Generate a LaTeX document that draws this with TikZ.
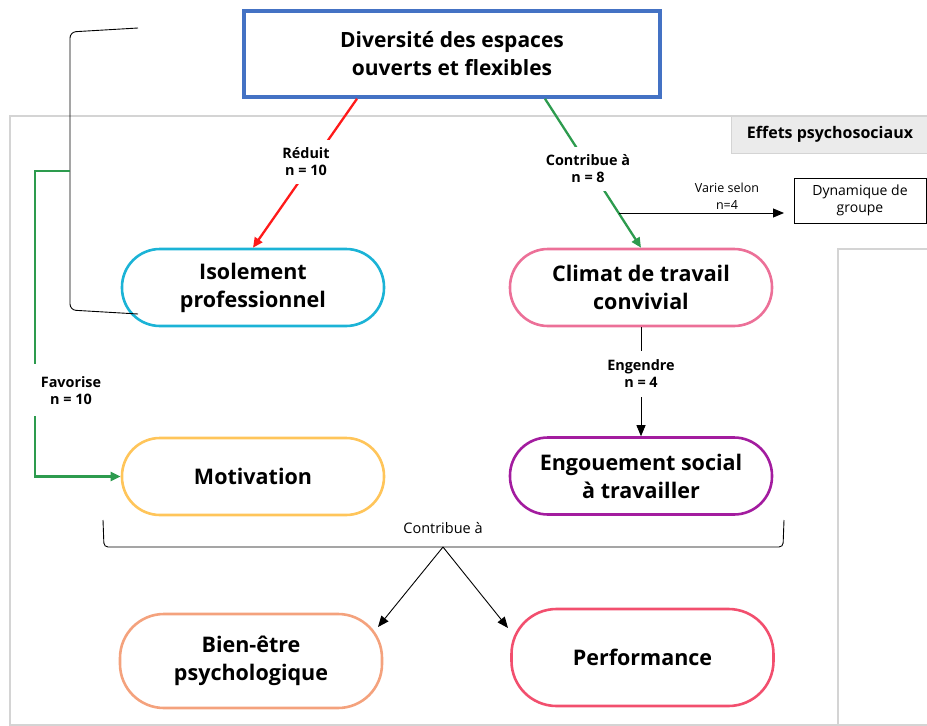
\documentclass[tikz,border=0pt]{standalone}
\usepackage{fontspec}
\setmainfont{Open Sans}
\usetikzlibrary{arrows.meta,calc}
\definecolor{topblue}{HTML}{4472C4}
\definecolor{isoc}{HTML}{1BB3D6}
\definecolor{climc}{HTML}{EC7098}
\definecolor{motc}{HTML}{FFC55A}
\definecolor{engc}{HTML}{A31C9F}
\definecolor{bienc}{HTML}{F4A27D}
\definecolor{perfc}{HTML}{F24F6E}
\definecolor{greenc}{HTML}{2D9B4E}
\definecolor{redc}{HTML}{FF1A1A}
\definecolor{framec}{HTML}{D4D4D4}
\definecolor{effc}{HTML}{EBEBEB}
\begin{document}
\begin{tikzpicture}[x=1pt,y=-1pt,
  pill/.style={draw=#1, line width=2.6pt, rounded corners=38pt, minimum width=262pt, minimum height=77pt, align=center, inner sep=0pt, font=\fontsize{21.5}{28}\selectfont\bfseries},
  lbl/.style={fill=white, align=center, inner xsep=4pt, inner ysep=8pt, font=\fontsize{14.4}{17}\selectfont\bfseries},
  small/.style={align=center, inner sep=0pt, font=\fontsize{14}{17}\selectfont},
  tipA/.style={-{Triangle[length=10pt,width=9pt]}},
  tipB/.style={-{Triangle[length=11pt,width=9pt]}},
  thinl/.style={line width=0.9pt, black}]
\useasboundingbox (0,0) rectangle (927,726);
% frame
\draw[framec, line width=1.5pt] (10,726) -- (10,116) -- (927,116);
\draw[framec, line width=1.5pt] (10,725) -- (927,725);
\draw[framec, line width=1.5pt] (838,726) -- (838,249) -- (927,249);
\node[fill=effc, draw=framec, line width=0.6pt, minimum width=198pt, minimum height=37pt, inner sep=0pt, font=\fontsize{16}{20}\selectfont\bfseries] (eff) at (830,134.5) {Effets psychosociaux};
% top box
\node[draw=topblue, line width=3.5pt, fill=white, minimum width=416pt, minimum height=86pt, align=center, inner sep=0pt, font=\fontsize{21}{28}\selectfont\bfseries] (top) at (452,54) {Diversité des espaces\\ouverts et flexibles};
% pills
\node[pill=isoc] (iso) at (253,287.5) {Isolement\\professionnel};
\node[pill=climc] (clim) at (641,287.5) {Climat de travail\\convivial};
\node[pill=motc] (mot) at (253,476.5) {Motivation};
\node[pill=engc] (eng) at (641,476) {Engouement social\\à travailler};
\node[pill=bienc, minimum height=94pt, rounded corners=44pt] (bien) at (251,661) {Bien-être\\psychologique};
\node[pill=perfc, minimum height=97pt, rounded corners=45pt] (perf) at (642.5,657.5) {Performance};
% dynamique box
\node[draw, line width=0.9pt, minimum width=132pt, minimum height=45pt, small] (dyn) at (860,200.5) {Dynamique de\\groupe};
% left bracket
\draw[thinl, rounded corners=6pt] (138,28) -- (70,32) -- (70,310) -- (138,314);
\coordinate (brk) at (70,171);
% red arrow
\draw[redc, line width=2.3pt, tipA] ($(top.south)+(-95,0)$) -- (iso.north);
\node[lbl] (red) at (306,162) {Réduit\\n = 10};
% green arrow
\draw[greenc, line width=2.3pt, tipA] ($(top.south)+(93,0)$) -- (clim.north);
\node[lbl] (grn) at (588,169) {Contribue à\\n = 8};
% varie selon
\coordinate (vs) at (619,213);
\coordinate (ve) at (784,213);
\draw[thinl, tipB] (vs) -- (ve);
\node[small, font=\fontsize{12.5}{17}\selectfont] (var) at (727,196) {Varie selon\\n=4};
% engendre
\draw[thinl, tipB] (clim.south) -- (eng.north);
\node[lbl, inner ysep=9pt] (engl) at (641,374) {Engendre\\n = 4};
% favorise
\coordinate (fa) at (35,364);
\coordinate (fb) at (35,416);
\draw[greenc, line width=2.3pt] (brk) -- (35,171) -- (fa);
\draw[greenc, line width=2.3pt, tipA] (fb) |- (mot.west);
\node[align=center, inner sep=0pt, font=\fontsize{14.4}{17}\selectfont\bfseries] (fav) at (71,391) {Favorise\\n = 10};
% bottom brace
\draw[thinl, rounded corners=4pt] (103,520) -- (104,547) -- (783,547) -- (784,520);
\coordinate (apex) at (443,547);
\node[small, font=\fontsize{14.5}{17}\selectfont] (contr) at (443,528) {Contribue à};
\coordinate (bt) at (378,627);
\coordinate (pt) at (508,628);
\draw[thinl, tipB] (apex) -- (bt);
\draw[thinl, tipB] (apex) -- (pt);
\end{tikzpicture}
\end{document}
